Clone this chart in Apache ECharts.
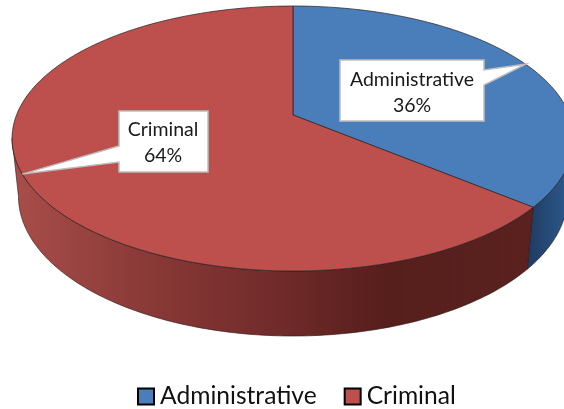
<!DOCTYPE html>
<html><head><meta charset="utf-8">
<script src="https://cdn.jsdelivr.net/npm/echarts@6/dist/echarts.min.js"></script>
<style>html,body{margin:0;padding:0;background:#fff}#c{width:564px;height:409px}</style>
</head><body><div id="c"></div>
<script>
const categories = ['Administrative', 'Criminal'];
const values = [36, 64];
const topColors = ['#4A7EBB', '#BD4F4C'];

// perspective disc layout (screen pixels)
const P = {cx: 293, X: 276.5, a: -107.94, b: 115, c: 0.1774, d: 0.0227, e: 61.1};
function project(deg, z) {
  const t = deg * Math.PI / 180, u = Math.sin(t), v = Math.cos(t);
  const w = 1 + P.c * v + P.d * z;
  return [P.cx + P.X * u / w, (P.a * v + P.b + P.e * z) / w];
}
function arc(from, to, z) {
  const pts = [], n = Math.max(2, Math.ceil(Math.abs(to - from)));
  for (let i = 0; i <= n; i++) pts.push(project(from + (to - from) * i / n, z));
  return pts;
}
const wallFills = [
  new echarts.graphic.LinearGradient(527, 0, 564, 0, [{offset: 0, color: '#1F3A60'}, {offset: 1, color: '#2B5688'}], true),
  new echarts.graphic.LinearGradient(15, 0, 530, 0, [
    {offset: 0, color: '#A84D4A'}, {offset: 0.25, color: '#8A3A37'}, {offset: 0.5, color: '#722B2B'},
    {offset: 0.72, color: '#561F1C'}, {offset: 1, color: '#5A211F'}], true)
];
const callouts = [
  {box: [340, 60, 484, 121], side: 'right', base: [70, 85], text: [412, 92.5]},
  {box: [119, 111, 208, 172], side: 'left', base: [146, 162], text: [163, 142.5]}
];
const total = values.reduce((s, v) => s + v, 0);
let acc = 0;
const spans = values.map(v => { const s = [acc, acc + v]; acc += v; return s; });

function renderSlice(idx) {
  return function (params, api) {
    const a0 = api.value(0) / total * 360, a1 = api.value(1) / total * 360;
    const kids = [];
    // outer wall: only the front of the rim is visible, up to the silhouette angle
    const w0 = Math.max(a0, 100), w1 = Math.min(a1, 260);
    if (w1 > w0) {
      const wall = arc(w0, w1, 1).concat(arc(w1, w0, 0));
      kids.push({type: 'polygon', z2: 1, shape: {points: wall},
        style: {fill: wallFills[idx], stroke: '#2a1512', lineWidth: 0.6}});
    }
    // top face
    const face = [[P.cx, P.b]];
    arc(a0, a1, 0).forEach(p => face.push(p));
    kids.push({type: 'polygon', z2: 2, shape: {points: face},
      style: {fill: topColors[idx], stroke: '#26201f', lineWidth: 0.7, lineJoin: 'round'}});
    // callout pointing at the middle of the slice
    const tip = project((a0 + a1) / 2, 0), c = callouts[idx], b = c.box;
    const pts = c.side === 'right'
      ? [[b[0], b[1]], [b[2], b[1]], [b[2], c.base[0]], tip, [b[2], c.base[1]], [b[2], b[3]], [b[0], b[3]]]
      : [[b[0], b[1]], [b[2], b[1]], [b[2], b[3]], [b[0], b[3]], [b[0], c.base[1]], tip, [b[0], c.base[0]]];
    kids.push({type: 'polygon', z2: 3, shape: {points: pts},
      style: {fill: '#fff', stroke: '#BDBDBD', lineWidth: 1.5}});
    kids.push({type: 'text', z2: 4, x: c.text[0], y: c.text[1], style: {
      text: categories[idx] + '\n' + api.value(2) + '%',
      fill: '#1a1a1a', font: '19.5px Lato, Carlito, sans-serif', lineHeight: 26,
      align: 'center', verticalAlign: 'middle'}});
    return {type: 'group', children: kids};
  };
}

const chart = echarts.init(document.getElementById('c'), null, {renderer: 'canvas'});
chart.setOption({
  animation: false,
  backgroundColor: '#fff',
  legend: {
    left: 137, top: 384, padding: 0, itemWidth: 16, itemHeight: 16, itemGap: 27, icon: 'rect',
    data: categories.map(n => ({name: n})),
    textStyle: {fontFamily: 'Lato', fontSize: 24.6, color: '#111', padding: [0, 0, 0, 1]},
    selectedMode: false
  },
  series: categories.map((name, i) => ({
    type: 'custom', name, coordinateSystem: 'none',
    itemStyle: {color: topColors[i], borderColor: '#000', borderWidth: 1.5},
    renderItem: renderSlice(i),
    data: [[spans[i][0], spans[i][1], values[i]]],
    silent: true
  }))
});
</script></body></html>
